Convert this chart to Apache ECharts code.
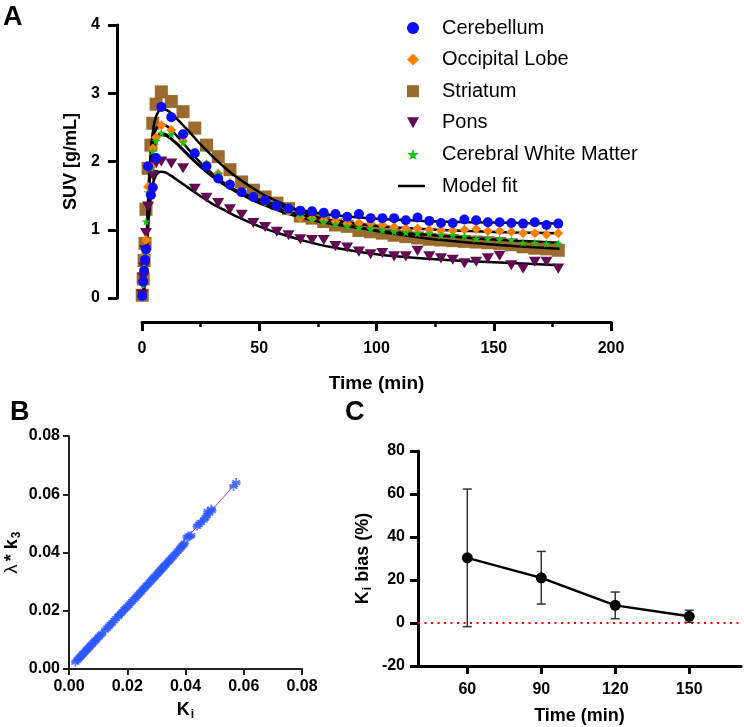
<!DOCTYPE html>
<html>
<head>
<meta charset="utf-8">
<script src="https://cdn.jsdelivr.net/npm/echarts@6.0.0/dist/echarts.min.js"></script>
<style>
  html, body { margin: 0; padding: 0; background: #fff; }
  #chart { width: 744px; height: 727px; }
</style>
</head>
<body>
<div id="chart"></div>
<script>
/* Figura A/B/C: curvas SUV, Ki vs lambda*k3, sesgo de Ki */

// --- A: tiempos de frame (min) y SUV por región
var frameTimes = [0.1, 0.5, 0.9, 1.3, 1.7, 2.6, 3.8, 4.6, 6.0, 8.25,
  12.5, 17.5, 22.5, 27.5, 32.5, 37.5, 42.5, 47.5, 52.5, 57.5,
  62.5, 67.5, 72.5, 77.5, 82.5, 87.5, 92.5, 97.5, 102.5, 107.5,
  112.5, 117.5, 122.5, 127.5, 132.5, 137.5, 142.5, 147.5, 152.5, 157.5,
  162.5, 167.5, 172.5, 177.5];
var cerebellum = [0.03, 0.24, 0.40, 0.56, 0.71, 1.93, 1.51, 1.62, 2.05, 2.80,
  2.65, 2.40, 2.12, 1.93, 1.75, 1.66, 1.55, 1.48, 1.43, 1.35,
  1.31, 1.28, 1.27, 1.25, 1.23, 1.19, 1.23, 1.17, 1.17, 1.17,
  1.14, 1.18, 1.13, 1.10, 1.10, 1.15, 1.14, 1.11, 1.11, 1.10,
  1.09, 1.11, 1.07, 1.09];
var occipital = [0.03, 0.22, 0.42, 0.62, 0.85, 1.63, 1.93, 2.19, 2.35, 2.53,
  2.46, 2.30, 2.12, 1.96, 1.82, 1.68, 1.57, 1.48, 1.41, 1.34,
  1.27, 1.18, 1.17, 1.14, 1.12, 1.09, 1.10, 1.09, 1.07, 1.04,
  1.02, 1.02, 1.00, 0.99, 0.99, 1.00, 1.01, 0.98, 0.98, 0.97,
  0.95, 0.95, 0.93, 0.95];
var striatum = [0.04, 0.28, 0.55, 0.80, 1.30, 1.90, 2.24, 2.56, 2.84, 3.02,
  2.88, 2.73, 2.49, 2.24, 2.07, 1.88, 1.70, 1.58, 1.48, 1.39,
  1.31, 1.20, 1.17, 1.12, 1.07, 1.05, 0.99, 0.97, 0.95, 0.92,
  0.90, 0.88, 0.86, 0.85, 0.84, 0.83, 0.82, 0.81, 0.80, 0.78,
  0.75, 0.73, 0.72, 0.70];
var pons = [0.05, 0.30, 0.45, 0.70, 0.95, 1.34, 1.58, 1.80, 1.97, 2.00,
  1.97, 1.90, 1.60, 1.47, 1.39, 1.30, 1.22, 1.10, 1.04, 0.97,
  0.92, 0.86, 0.85, 0.85, 0.76, 0.74, 0.68, 0.64, 0.66, 0.61,
  0.61, 0.69, 0.61, 0.58, 0.56, 0.51, 0.53, 0.58, 0.62, 0.48,
  0.43, 0.53, 0.53, 0.43];
var whiteMatter = [0.03, 0.20, 0.45, 0.65, 1.12, 1.55, 1.90, 2.15, 2.30, 2.42,
  2.40, 2.28, 2.12, 1.97, 1.83, 1.70, 1.59, 1.50, 1.42, 1.35,
  1.28, 1.21, 1.16, 1.12, 1.08, 1.05, 1.03, 1.01, 0.99, 0.97,
  0.96, 0.95, 0.95, 0.92, 0.92, 0.91, 0.87, 0.87, 0.86, 0.85,
  0.81, 0.81, 0.80, 0.80];

// --- A: curvas del modelo
var fitTimes = [0, 0.5, 1, 1.5, 2, 2.5, 3, 4, 5, 6, 7, 8, 10, 12, 15, 20, 25, 30, 35, 40,
  50, 60, 70, 80, 100, 120, 140, 160, 178];
var fitCerebellum = [0, 0.03, 0.21, 0.52, 0.88, 1.30, 1.68, 2.12, 2.36, 2.48, 2.53, 2.55, 2.53, 2.48, 2.37,
  2.17, 1.98, 1.82, 1.69, 1.58, 1.44, 1.34, 1.27, 1.22, 1.16, 1.13, 1.11, 1.10, 1.09];
var fitOccipital = [0, 0.03, 0.20, 0.50, 0.85, 1.25, 1.62, 2.03, 2.24, 2.34, 2.39, 2.41, 2.40, 2.35, 2.26,
  2.09, 1.93, 1.79, 1.67, 1.57, 1.41, 1.29, 1.20, 1.14, 1.06, 1.01, 0.98, 0.96, 0.95];
var fitStriatum = [0, 0.03, 0.22, 0.55, 0.92, 1.35, 1.75, 2.25, 2.52, 2.66, 2.73, 2.76, 2.76, 2.72, 2.62,
  2.44, 2.25, 2.08, 1.92, 1.78, 1.55, 1.38, 1.24, 1.13, 0.98, 0.88, 0.81, 0.76, 0.72];
var fitPons = [0, 0.03, 0.17, 0.40, 0.66, 0.95, 1.22, 1.55, 1.72, 1.80, 1.84, 1.85, 1.84, 1.80, 1.73,
  1.61, 1.49, 1.38, 1.29, 1.20, 1.05, 0.93, 0.83, 0.75, 0.64, 0.58, 0.54, 0.51, 0.48];
var fitWhiteMatter = [0, 0.03, 0.20, 0.50, 0.85, 1.24, 1.60, 2.01, 2.22, 2.32, 2.37, 2.39, 2.38, 2.34, 2.25,
  2.08, 1.92, 1.78, 1.66, 1.56, 1.39, 1.26, 1.16, 1.09, 0.99, 0.93, 0.88, 0.84, 0.81];

// --- B: Ki frente a lambda*k3
var kiVals = [0.0022, 0.0028, 0.0031, 0.0035, 0.0039, 0.0042, 0.0046, 0.0049, 0.0053, 0.0057,
  0.0061, 0.0064, 0.0068, 0.0072, 0.0076, 0.0080, 0.0085, 0.0089, 0.0094, 0.0099,
  0.0103, 0.0108, 0.0113, 0.0125, 0.0131, 0.0137, 0.0142, 0.0148, 0.0155, 0.0161,
  0.0168, 0.0172, 0.0178, 0.0183, 0.0189, 0.0194, 0.0199, 0.0205, 0.0211, 0.0216,
  0.0222, 0.0228, 0.0233, 0.0238, 0.0243, 0.0248, 0.0253, 0.0258, 0.0262, 0.0267,
  0.0271, 0.0276, 0.0280, 0.0284, 0.0288, 0.0292, 0.0296, 0.0300, 0.0304, 0.0308,
  0.0311, 0.0315, 0.0318, 0.0322, 0.0326, 0.0330, 0.0334, 0.0339, 0.0343, 0.0347,
  0.0352, 0.0357, 0.0362, 0.0368, 0.0374, 0.0380, 0.0385, 0.0389, 0.0393, 0.0397,
  0.0405, 0.0410, 0.0414, 0.0419, 0.0440, 0.0446, 0.0452, 0.0463, 0.0468, 0.0473,
  0.0476, 0.0482, 0.0488, 0.0491, 0.0565, 0.0574];
var lk3Vals = [0.0023, 0.0030, 0.0033, 0.0038, 0.0042, 0.0045, 0.0050, 0.0053, 0.0057, 0.0062,
  0.0066, 0.0069, 0.0073, 0.0078, 0.0082, 0.0086, 0.0092, 0.0096, 0.0101, 0.0107,
  0.0111, 0.0117, 0.0121, 0.0134, 0.0141, 0.0147, 0.0153, 0.0158, 0.0166, 0.0173,
  0.0180, 0.0185, 0.0190, 0.0196, 0.0203, 0.0208, 0.0213, 0.0219, 0.0226, 0.0231,
  0.0238, 0.0244, 0.0250, 0.0255, 0.0261, 0.0266, 0.0272, 0.0277, 0.0281, 0.0287,
  0.0291, 0.0297, 0.0301, 0.0306, 0.0310, 0.0314, 0.0319, 0.0323, 0.0327, 0.0332,
  0.0335, 0.0340, 0.0343, 0.0347, 0.0352, 0.0356, 0.0361, 0.0366, 0.0371, 0.0375,
  0.0381, 0.0386, 0.0392, 0.0398, 0.0405, 0.0412, 0.0418, 0.0423, 0.0427, 0.0432,
  0.0452, 0.0457, 0.0455, 0.0458, 0.0490, 0.0497, 0.0503, 0.0511, 0.0519, 0.0527,
  0.0541, 0.0535, 0.0549, 0.0544, 0.0627, 0.0640];
var identityKi = [0.0022, 0.0575];
var identityLk3 = [0.0023, 0.0640];

// --- C: sesgo de Ki (%) según duración del escaneo
var biasTimes = [60, 90, 120, 150];
var biasMean = [30.3, 21.0, 8.2, 3.1];
var biasLow = [-1.7, 8.8, 2.0, 0.3];
var biasHigh = [62.3, 33.3, 14.4, 5.9];

var FONT = "'Liberation Sans', Arial, sans-serif";
var TRI_DOWN = "path://M0,0L12,0L6,11Z";
var STAR = "path://M50,0L61,35L98,35L68,57L79,91L50,70L21,91L32,57L2,35L39,35Z";
var ASTERISK = "path://M5,0L5,10M0.7,2.5L9.3,7.5M0.7,7.5L9.3,2.5M0,5L10,5";

function pairs(xs, ys) {
  return xs.map(function (x, i) { return [x, ys[i]]; });
}

function regionSeries(name, data, symbol, size, color, z) {
  return {
    name: name, type: "scatter", xAxisIndex: 0, yAxisIndex: 0,
    data: pairs(frameTimes, data), symbol: symbol, symbolSize: size,
    symbolKeepAspect: true, itemStyle: { color: color, opacity: 1 }, z: z
  };
}

function fitSeries(values) {
  return {
    name: "Model fit", type: "line", xAxisIndex: 0, yAxisIndex: 0,
    data: pairs(fitTimes, values), smooth: 0.35, showSymbol: false, symbol: "none",
    lineStyle: { color: "#000", width: 2.5 }, itemStyle: { color: "#000" }, z: 3
  };
}

function boldAxis(width, color) {
  return { show: true, onZero: false, lineStyle: { color: color || "#000", width: width } };
}

var chart = echarts.init(document.getElementById("chart"), null, { renderer: "canvas" });

var legendText = { fontSize: 20, color: "#000", fontFamily: FONT, lineHeight: 22 };

chart.setOption({
  animation: false,
  backgroundColor: "#fff",
  textStyle: { fontFamily: FONT, color: "#000" },
  graphic: [
    { type: "text", left: 3, top: 4, style: { text: "A", font: "bold 27px " + FONT, fill: "#000" } },
    { type: "text", left: 10, top: 399, style: { text: "B", font: "bold 27px " + FONT, fill: "#000" } },
    { type: "text", left: 345, top: 399, style: { text: "C", font: "bold 27px " + FONT, fill: "#000" } }
  ],
  legend: [
    {
      orient: "vertical", left: 402, top: 12,
      itemWidth: 12, itemHeight: 12, itemGap: 9.6,
      textStyle: echarts.util.extend({ padding: [0, 0, 0, 18] }, legendText),
      data: ["Cerebellum", "Occipital Lobe", "Striatum", "Pons", "Cerebral White Matter"]
    },
    {
      orient: "vertical", left: 393, top: 170,
      itemWidth: 27, itemHeight: 2.5,
      textStyle: echarts.util.extend({ padding: [0, 0, 0, 12] }, legendText),
      data: [{ name: "Model fit", icon: "rect" }]
    }
  ],
  grid: [
    { left: 142, top: 25, width: 469, height: 273 },
    { left: 69, top: 436, width: 233, height: 233 },
    { left: 418, top: 451, width: 323, height: 215 }
  ],
  xAxis: [
    {
      gridIndex: 0, type: "value", min: 0, max: 200, interval: 50, offset: 24,
      axisLine: boldAxis(3),
      axisTick: { show: true, length: 9, lineStyle: { color: "#000", width: 3 } },
      minorTick: { show: true, splitNumber: 2, length: 5, lineStyle: { color: "#000", width: 2.5 } },
      splitLine: { show: false },
      axisLabel: { fontSize: 16, fontWeight: "bold", color: "#000", margin: 19 },
      name: "Time (min)", nameLocation: "middle", nameGap: 52,
      nameTextStyle: { fontSize: 19, fontWeight: "bold", color: "#000" }
    },
    {
      gridIndex: 1, type: "value", min: 0, max: 0.08, interval: 0.02,
      axisLine: boldAxis(2, "#222"),
      axisTick: { show: true, length: 6, lineStyle: { color: "#222", width: 2 } },
      splitLine: { show: false },
      axisLabel: {
        fontSize: 16, fontWeight: "bold", color: "#000", margin: 10,
        formatter: function (v) { return v.toFixed(2); }
      },
      name: "{k|K}{i|i}", nameLocation: "middle", nameGap: 30,
      nameTextStyle: {
        rich: {
          k: { fontSize: 18, fontWeight: "bold", color: "#000", fontFamily: FONT, lineHeight: 22 },
          i: { fontSize: 12, fontWeight: "bold", color: "#000", fontFamily: FONT, lineHeight: 22, padding: [10, 0, 0, 1] }
        }
      }
    },
    {
      gridIndex: 2, type: "value", min: 40, max: 171,
      axisLine: boldAxis(3),
      axisTick: { show: true, length: 8, customValues: biasTimes, lineStyle: { color: "#000", width: 3 } },
      splitLine: { show: false },
      axisLabel: { fontSize: 16, fontWeight: "bold", color: "#000", margin: 16, customValues: biasTimes },
      name: "Time (min)", nameLocation: "middle", nameGap: 41,
      nameTextStyle: { fontSize: 18, fontWeight: "bold", color: "#000" }
    }
  ],
  yAxis: [
    {
      gridIndex: 0, type: "value", min: 0, max: 4, interval: 1, offset: 25,
      axisLine: boldAxis(3),
      axisTick: { show: true, length: 9, lineStyle: { color: "#000", width: 3 } },
      splitLine: { show: false },
      axisLabel: { fontSize: 16, fontWeight: "bold", color: "#000", margin: 17 },
      name: "SUV [g/mL]", nameLocation: "middle", nameGap: 31,
      nameTextStyle: { fontSize: 18, fontWeight: "bold", color: "#000" }
    },
    {
      gridIndex: 1, type: "value", min: 0, max: 0.08, interval: 0.02,
      axisLine: boldAxis(2, "#222"),
      axisTick: { show: true, length: 6, lineStyle: { color: "#222", width: 2 } },
      splitLine: { show: false },
      axisLabel: {
        fontSize: 16, fontWeight: "bold", color: "#000", margin: 9,
        formatter: function (v) { return v.toFixed(2); }
      },
      name: "{l|λ} {b|* k}{s|3}", nameLocation: "middle", nameGap: 46,
      nameTextStyle: {
        rich: {
          l: { fontSize: 18, color: "#000", fontFamily: FONT, lineHeight: 22 },
          b: { fontSize: 18, fontWeight: "bold", color: "#000", fontFamily: FONT, lineHeight: 22 },
          s: { fontSize: 12, fontWeight: "bold", color: "#000", fontFamily: FONT, lineHeight: 22, padding: [10, 0, 0, 1] }
        }
      }
    },
    {
      gridIndex: 2, type: "value", min: -20, max: 80, interval: 20,
      axisLine: boldAxis(3),
      axisTick: { show: true, length: 8, lineStyle: { color: "#000", width: 3 } },
      splitLine: { show: false },
      axisLabel: { fontSize: 16, fontWeight: "bold", color: "#000", margin: 13 },
      name: "{b|K}{s|i}{b| bias (%)}", nameLocation: "middle", nameGap: 44,
      nameTextStyle: {
        rich: {
          b: { fontSize: 18, fontWeight: "bold", color: "#000", fontFamily: FONT, lineHeight: 22 },
          s: { fontSize: 12, fontWeight: "bold", color: "#000", fontFamily: FONT, lineHeight: 22, padding: [10, 0, 0, 1] }
        }
      }
    }
  ],
  series: [
    regionSeries("Striatum", striatum, "rect", 13, "#9a6a2e", 2),
    fitSeries(fitStriatum),
    fitSeries(fitCerebellum),
    fitSeries(fitOccipital),
    fitSeries(fitWhiteMatter),
    fitSeries(fitPons),
    regionSeries("Pons", pons, TRI_DOWN, [12, 11], "#620b53", 4),
    regionSeries("Occipital Lobe", occipital, "diamond", 10, "#ff8000", 5),
    regionSeries("Cerebral White Matter", whiteMatter, STAR, 9, "#14c414", 6),
    regionSeries("Cerebellum", cerebellum, "circle", 10, "#0c0cf6", 7),

    {
      name: "identidad", type: "line", xAxisIndex: 1, yAxisIndex: 1,
      data: pairs(identityKi, identityLk3), showSymbol: false, symbol: "none",
      lineStyle: { color: "#a1408f", width: 1 }, z: 1
    },
    {
      name: "Ki", type: "scatter", xAxisIndex: 1, yAxisIndex: 1,
      data: pairs(kiVals, lk3Vals), symbol: ASTERISK, symbolSize: 9,
      itemStyle: { color: "#2a58ff", borderColor: "#2a58ff", borderWidth: 1.6 }, z: 2
    },

    {
      name: "error", type: "custom", xAxisIndex: 2, yAxisIndex: 2,
      data: biasTimes.map(function (t, i) { return [t, biasLow[i], biasHigh[i]]; }),
      encode: { x: 0, y: [1, 2] },
      renderItem: function (params, api) {
        var lo = api.coord([api.value(0), api.value(1)]);
        var hi = api.coord([api.value(0), api.value(2)]);
        var w = 4.5;
        var st = { stroke: "#333", lineWidth: 1.5 };
        return {
          type: "group",
          children: [
            { type: "line", shape: { x1: lo[0], y1: lo[1], x2: hi[0], y2: hi[1] }, style: st },
            { type: "line", shape: { x1: lo[0] - w, y1: lo[1], x2: lo[0] + w, y2: lo[1] }, style: st },
            { type: "line", shape: { x1: hi[0] - w, y1: hi[1], x2: hi[0] + w, y2: hi[1] }, style: st }
          ]
        };
      },
      z: 2
    },
    {
      name: "bias", type: "line", xAxisIndex: 2, yAxisIndex: 2,
      data: pairs(biasTimes, biasMean), symbol: "circle", symbolSize: 11,
      lineStyle: { color: "#000", width: 2.5 }, itemStyle: { color: "#000" }, z: 3,
      markLine: {
        silent: true, symbol: "none", label: { show: false },
        lineStyle: { color: "#ff0000", type: [2, 4.5], width: 2 },
        data: [{ yAxis: 0 }]
      }
    }
  ]
});
</script>
</body>
</html>
